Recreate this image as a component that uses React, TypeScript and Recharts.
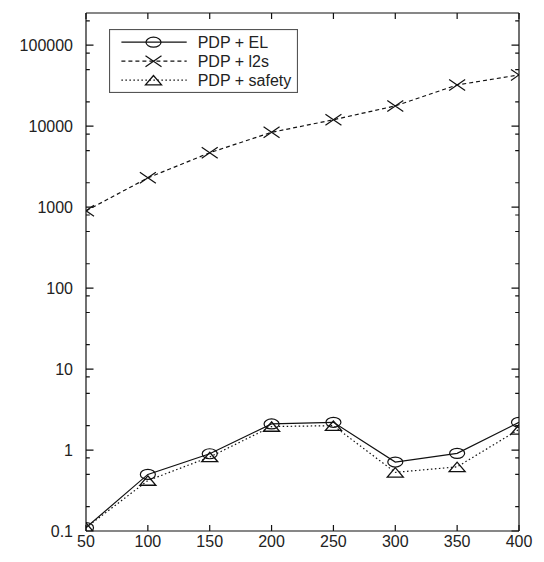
import React from "react";
import { LineChart, Line, XAxis, YAxis, Legend, ReferenceLine } from "recharts";

// Problem sizes on the x axis
const sizes = [50, 100, 150, 200, 250, 300, 350, 400];
// Run times per configuration (log scale)
const pdpEL = [0.11, 0.5, 0.9, 2.1, 2.2, 0.71, 0.91, 2.2];
const pdpL2s = [900, 2300, 4700, 8400, 12000, 17800, 32300, 43000];
const pdpSafety = [0.11, 0.42, 0.82, 1.95, 2.0, 0.53, 0.62, 1.8];

const xTicks = [50, 100, 150, 200, 250, 300, 350, 400];
const yMajorTicks = [0.1, 1, 10, 100, 1000, 10000, 100000];
const yMinorTicks = [
  0.2, 0.5, 0.8, 2, 5, 8, 20, 50, 80, 200, 500, 800, 2000, 5000, 8000, 20000,
  50000, 80000, 200000,
];
const yTicks = [...yMajorTicks, ...yMinorTicks].sort((a, b) => a - b);

const seriesNames = ["PDP + EL", "PDP + l2s", "PDP + safety"];

const rows = sizes.map((x, i) => ({
  x,
  el: pdpEL[i],
  l2s: pdpL2s[i],
  safety: pdpSafety[i],
}));

const INK = "#111";
const FONT = "'Liberation Sans', Arial, Helvetica, sans-serif";
const FONT_SIZE = 16;

const isMajor = (v: number) => yMajorTicks.includes(v);
const fmtY = (v: number) => (v < 1 ? String(v) : String(Math.round(v)));

// Axis labels only; the inward tick marks are drawn by the ReferenceLine shapes
function LeftLabel(props: any) {
  const { x, y, payload } = props;
  const v = payload.value;
  if (!isMajor(v)) return <g />;
  return (
    <text
      x={x - 13}
      y={y}
      textAnchor="end"
      dominantBaseline="central"
      fontFamily={FONT}
      fontSize={FONT_SIZE}
      fill="#222"
    >
      {fmtY(v)}
    </text>
  );
}

function BottomLabel(props: any) {
  const { x, y, payload } = props;
  return (
    <text x={x} y={y + 16} textAnchor="middle" fontFamily={FONT} fontSize={FONT_SIZE} fill="#222">
      {payload.value}
    </text>
  );
}

// Short inward marks at both ends of a horizontal reference line (left and right frame)
const yTickShape = (len: number) => (p: any) => {
  const xl = Math.min(p.x1, p.x2);
  const xr = Math.max(p.x1, p.x2);
  const y = p.y1;
  return (
    <path
      d={`M${xl},${y}h${len}M${xr},${y}h${-len}`}
      stroke={INK}
      strokeWidth={1.2}
      fill="none"
    />
  );
};

// Short inward marks at both ends of a vertical reference line (bottom and top frame)
const xTickShape = (p: any) => {
  const yt = Math.min(p.y1, p.y2);
  const yb = Math.max(p.y1, p.y2);
  const x = p.x1;
  return (
    <path d={`M${x},${yb}v-6M${x},${yt}v6`} stroke={INK} strokeWidth={1.2} fill="none" />
  );
};

function CircleMark({ cx, cy }: { cx: number; cy: number }) {
  return <ellipse cx={cx} cy={cy} rx={7.5} ry={5} fill="none" stroke={INK} strokeWidth={1.2} />;
}

function CrossMark({ cx, cy }: { cx: number; cy: number }) {
  return (
    <path
      d={`M${cx - 8},${cy - 5.5}L${cx + 8},${cy + 5.5}M${cx - 8},${cy + 5.5}L${cx + 8},${cy - 5.5}`}
      stroke={INK}
      strokeWidth={1.2}
      fill="none"
    />
  );
}

function TriangleMark({ cx, cy }: { cx: number; cy: number }) {
  return (
    <polygon
      points={`${cx},${cy - 4.7} ${cx - 8},${cy + 4.7} ${cx + 8},${cy + 4.7}`}
      fill="none"
      stroke={INK}
      strokeWidth={1.3}
    />
  );
}

const dotFor = (Mark: any) => (p: any) =>
  p.cx == null || p.cy == null ? (
    <g key={p.key ?? p.index} />
  ) : (
    <Mark key={p.key ?? p.index} cx={p.cx} cy={p.cy} />
  );

const legendStyles = [
  { dash: undefined, Mark: CircleMark },
  { dash: "4 3", Mark: CrossMark },
  { dash: "1.5 2.5", Mark: TriangleMark },
];

function LegendBox() {
  const w = 189;
  const h = 64;
  return (
    <svg width={w} height={h} style={{ display: "block" }}>
      <rect x={0.5} y={0.5} width={w - 1} height={h - 1} fill="#fff" stroke="#555" strokeWidth={1.2} />
      {seriesNames.map((name, i) => {
        const cy = 13.2 + i * 19;
        const { dash, Mark } = legendStyles[i];
        return (
          <g key={name}>
            <path d={`M12.4,${cy}H77.7`} stroke={INK} strokeWidth={1.2} strokeDasharray={dash} fill="none" />
            <Mark cx={44.5} cy={cy} />
            <text
              x={88.7}
              y={cy}
              dominantBaseline="central"
              fontFamily={FONT}
              fontSize={FONT_SIZE}
              fill="#222"
            >
              {name}
            </text>
          </g>
        );
      })}
    </svg>
  );
}

export default function App() {
  return (
    <div style={{ position: "absolute", left: 0, top: 0, width: 544, height: 562, background: "#fff" }}>
      <LineChart width={544} height={562} data={rows} margin={{ top: 12, right: 24, bottom: 0, left: 0 }}>
        <XAxis
          dataKey="x"
          type="number"
          domain={[50, 400]}
          ticks={xTicks}
          interval={0}
          height={31}
          tickSize={0}
          tickMargin={0}
          tickLine={false}
          axisLine={{ stroke: INK, strokeWidth: 1.2 }}
          tick={<BottomLabel />}
          allowDataOverflow
        />
        <XAxis
          xAxisId="top"
          orientation="top"
          dataKey="x"
          type="number"
          domain={[50, 400]}
          ticks={xTicks}
          interval={0}
          height={1}
          tickSize={0}
          tickMargin={0}
          tickLine={false}
          tick={false}
          axisLine={{ stroke: INK, strokeWidth: 1.2 }}
          allowDataOverflow
        />
        <YAxis
          scale="log"
          type="number"
          domain={[0.1, 250000]}
          ticks={yTicks}
          interval={0}
          width={86}
          tickSize={0}
          tickMargin={0}
          tickLine={false}
          axisLine={{ stroke: INK, strokeWidth: 1.2 }}
          tick={<LeftLabel />}
          allowDataOverflow
        />
        <YAxis
          yAxisId="right"
          orientation="right"
          scale="log"
          type="number"
          domain={[0.1, 250000]}
          ticks={yTicks}
          interval={0}
          width={1}
          tickSize={0}
          tickMargin={0}
          tickLine={false}
          tick={false}
          axisLine={{ stroke: INK, strokeWidth: 1.2 }}
          allowDataOverflow
        />
        {yTicks.map((v) => (
          <ReferenceLine
            key={`y${v}`}
            y={v}
            ifOverflow="visible"
            shape={yTickShape(isMajor(v) ? 7.5 : 3.8)}
          />
        ))}
        {xTicks.map((v) => (
          <ReferenceLine key={`x${v}`} x={v} ifOverflow="visible" shape={xTickShape} />
        ))}
        <Legend
          layout="vertical"
          align="center"
          verticalAlign="middle"
          content={() => <LegendBox />}
          wrapperStyle={{ position: "absolute", left: 109, top: 29, width: 189, height: 64 }}
        />
        <Line
          dataKey="safety"
          name={seriesNames[2]}
          stroke={INK}
          strokeWidth={1.2}
          strokeDasharray="1.5 2.5"
          dot={dotFor(TriangleMark)}
          activeDot={false}
          isAnimationActive={false}
        />
        <Line
          dataKey="l2s"
          name={seriesNames[1]}
          stroke={INK}
          strokeWidth={1.2}
          strokeDasharray="4 3"
          dot={dotFor(CrossMark)}
          activeDot={false}
          isAnimationActive={false}
        />
        <Line
          dataKey="el"
          name={seriesNames[0]}
          stroke={INK}
          strokeWidth={1.2}
          dot={dotFor(CircleMark)}
          activeDot={false}
          isAnimationActive={false}
        />
        {/* invisible series that binds the mirrored top/right frame axes */}
        <Line
          xAxisId="top"
          yAxisId="right"
          dataKey="l2s"
          stroke="none"
          dot={false}
          activeDot={false}
          legendType="none"
          isAnimationActive={false}
        />
      </LineChart>
    </div>
  );
}
